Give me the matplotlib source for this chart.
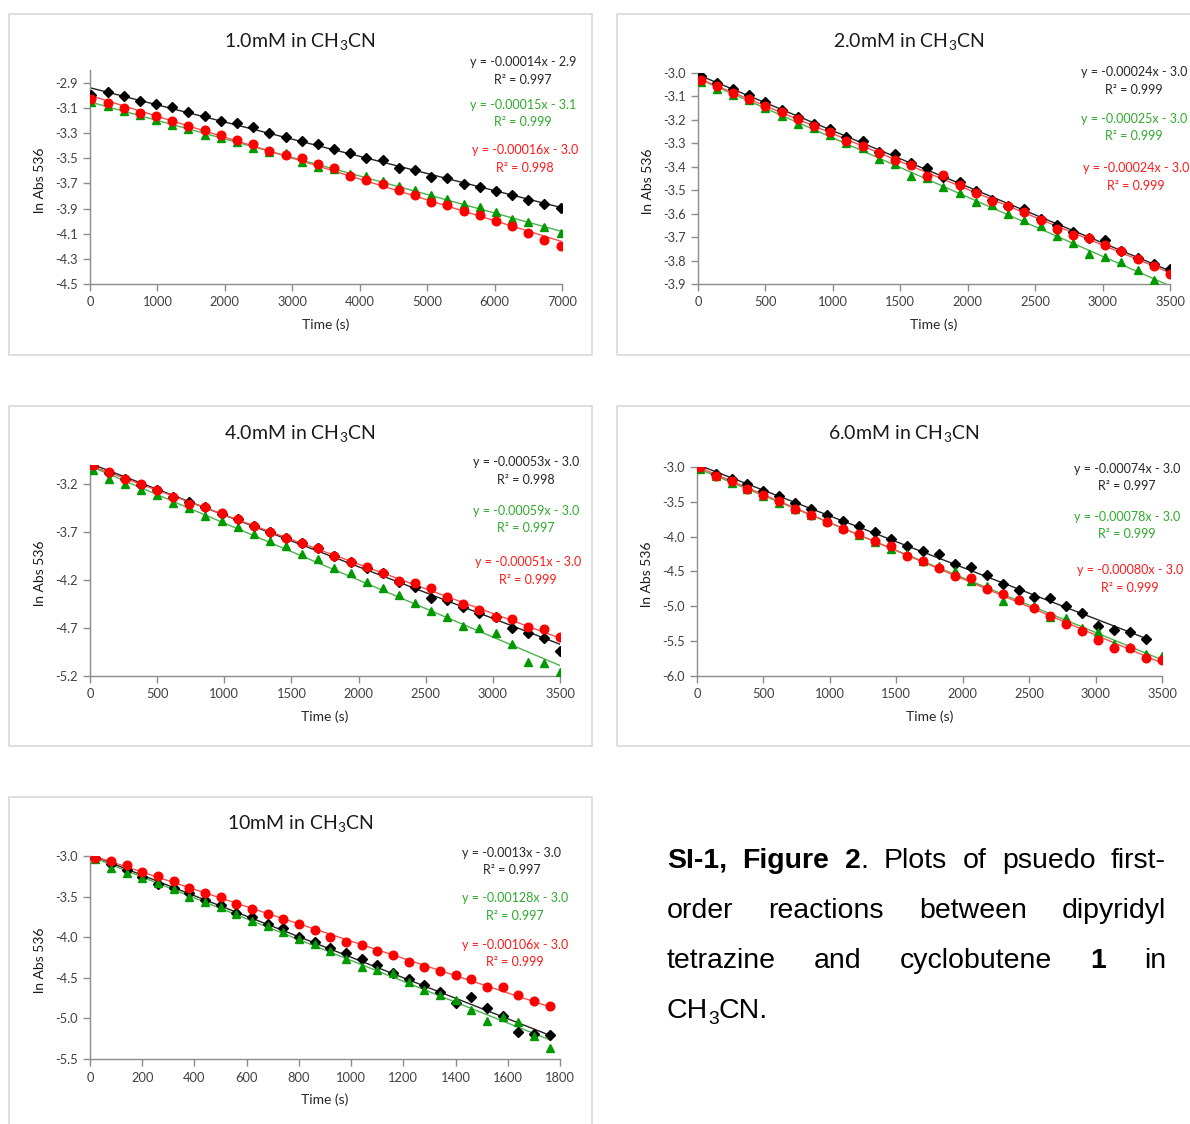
import numpy as np
import matplotlib.pyplot as plt
from matplotlib.patches import Rectangle
from matplotlib import font_manager
from matplotlib.font_manager import FontProperties

plt.rcParams['font.family'] = ['Lato', 'DejaVu Sans']
plt.rcParams['mathtext.fontset'] = 'custom'
plt.rcParams['mathtext.rm'] = 'Lato'
plt.rcParams['mathtext.it'] = 'Lato:italic'

W, H = 1190, 1124

# ---- data (time in s, ln Abs 536) ----
time_1 = [20, 260, 500, 740, 980, 1220, 1460, 1700, 1940, 2180, 2420, 2660, 2900, 3140, 3380,
          3620, 3860, 4100, 4340, 4580, 4820, 5060, 5300, 5540, 5780, 6020, 6260, 6500, 6740, 6980]
black_1 = [-2.997, -2.972, -3.005, -3.045, -3.064, -3.090, -3.128, -3.165, -3.203, -3.222,
           -3.254, -3.302, -3.332, -3.364, -3.388, -3.428, -3.460, -3.495, -3.514, -3.573,
           -3.592, -3.648, -3.659, -3.707, -3.728, -3.761, -3.790, -3.830, -3.862, -3.895]
green_1 = [-3.050, -3.085, -3.125, -3.157, -3.195, -3.232, -3.265, -3.313, -3.340, -3.372,
           -3.415, -3.452, -3.460, -3.527, -3.570, -3.586, -3.624, -3.640, -3.683, -3.723,
           -3.755, -3.795, -3.822, -3.860, -3.889, -3.929, -3.983, -4.010, -4.050, -4.098]
red_1 = [-3.031, -3.058, -3.098, -3.141, -3.165, -3.206, -3.246, -3.278, -3.318, -3.353,
         -3.388, -3.439, -3.474, -3.495, -3.541, -3.573, -3.643, -3.669, -3.707, -3.750,
         -3.795, -3.849, -3.871, -3.916, -3.951, -3.997, -4.039, -4.093, -4.150, -4.200]

time_2 = [20, 140, 260, 380, 500, 620, 740, 860, 980, 1100, 1220, 1340, 1460, 1580, 1700,
          1820, 1940, 2060, 2180, 2300, 2420, 2540, 2660, 2780, 2900, 3020, 3140, 3260, 3380, 3500]
black_2 = [-3.011, -3.043, -3.068, -3.094, -3.125, -3.158, -3.189, -3.217, -3.239, -3.272,
           -3.289, -3.338, -3.346, -3.385, -3.404, -3.445, -3.466, -3.503, -3.543, -3.566,
           -3.580, -3.623, -3.648, -3.677, -3.705, -3.711, -3.758, -3.790, -3.815, -3.836]
green_2 = [-3.040, -3.068, -3.092, -3.115, -3.149, -3.185, -3.218, -3.236, -3.264, -3.300,
           -3.321, -3.367, -3.388, -3.441, -3.446, -3.488, -3.510, -3.549, -3.562, -3.601,
           -3.627, -3.651, -3.697, -3.725, -3.772, -3.786, -3.808, -3.839, -3.883, -3.935]
red_2 = [-3.028, -3.057, -3.087, -3.111, -3.139, -3.168, -3.196, -3.225, -3.250, -3.289,
         -3.310, -3.343, -3.370, -3.391, -3.438, -3.435, -3.476, -3.513, -3.545, -3.566,
         -3.594, -3.626, -3.665, -3.690, -3.705, -3.732, -3.758, -3.793, -3.825, -3.859]

time_3 = time_2
black_3 = [-3.013, -3.082, -3.141, -3.210, -3.263, -3.332, -3.384, -3.443, -3.506, -3.565,
           -3.631, -3.697, -3.756, -3.811, -3.870, -3.950, -4.009, -4.072, -4.131, -4.217,
           -4.269, -4.384, -4.408, -4.478, -4.547, -4.589, -4.697, -4.756, -4.804, -4.936]
green_3 = [-3.054, -3.144, -3.200, -3.256, -3.315, -3.391, -3.453, -3.530, -3.582, -3.651,
           -3.721, -3.790, -3.846, -3.929, -3.985, -4.072, -4.131, -4.224, -4.280, -4.356,
           -4.436, -4.519, -4.589, -4.679, -4.703, -4.749, -4.870, -5.051, -5.061, -5.155]
red_3 = [-3.002, -3.072, -3.141, -3.203, -3.263, -3.332, -3.408, -3.443, -3.499, -3.565,
         -3.634, -3.697, -3.759, -3.811, -3.870, -3.950, -4.009, -4.068, -4.131, -4.210,
         -4.235, -4.280, -4.381, -4.450, -4.513, -4.589, -4.610, -4.686, -4.710, -4.797]

time_4 = time_2
black_4 = [-3.000, -3.106, -3.178, -3.250, -3.346, -3.418, -3.514, -3.600, -3.682, -3.768,
           -3.850, -3.931, -4.032, -4.128, -4.200, -4.243, -4.392, -4.440, -4.555, -4.675,
           -4.771, -4.872, -4.882, -5.002, -5.098, -5.276, -5.338, -5.362, -5.468]
green_4 = [-3.034, -3.130, -3.226, -3.322, -3.418, -3.514, -3.600, -3.682, -3.778, -3.874,
           -3.970, -4.080, -4.176, -4.243, -4.354, -4.426, -4.498, -4.642, -4.714, -4.930,
           -4.896, -5.002, -5.156, -5.170, -5.314, -5.362, -5.540, -5.578, -5.684, -5.712]
red_4 = [-3.000, -3.130, -3.202, -3.312, -3.408, -3.490, -3.610, -3.696, -3.792, -3.888,
         -3.955, -4.066, -4.138, -4.272, -4.354, -4.450, -4.570, -4.594, -4.747, -4.820,
         -4.906, -5.026, -5.132, -5.256, -5.352, -5.482, -5.592, -5.602, -5.736, -5.770]

time_5 = [20, 80, 140, 200, 260, 320, 380, 440, 500, 560, 620, 680, 740, 800, 860,
          920, 980, 1040, 1100, 1160, 1220, 1280, 1340, 1400, 1460, 1520, 1580, 1640, 1700, 1760]
black_5 = [-3.029, -3.098, -3.172, -3.262, -3.344, -3.398, -3.451, -3.541, -3.602, -3.697,
           -3.754, -3.840, -3.889, -3.992, -4.053, -4.135, -4.197, -4.270, -4.340, -4.443,
           -4.516, -4.586, -4.676, -4.811, -4.738, -4.873, -4.967, -5.168, -5.193, -5.205]
green_5 = [-3.041, -3.143, -3.213, -3.275, -3.336, -3.410, -3.500, -3.561, -3.623, -3.713,
           -3.795, -3.861, -3.930, -4.020, -4.082, -4.176, -4.266, -4.361, -4.402, -4.443,
           -4.553, -4.648, -4.709, -4.770, -4.893, -5.029, -4.988, -5.049, -5.213, -5.365]
red_5 = [-3.029, -3.057, -3.111, -3.193, -3.246, -3.303, -3.398, -3.451, -3.500, -3.594,
         -3.652, -3.713, -3.775, -3.836, -3.910, -3.992, -4.053, -4.094, -4.168, -4.217,
         -4.307, -4.361, -4.414, -4.463, -4.516, -4.619, -4.619, -4.717, -4.791, -4.852]

titles = ['1.0mM in CH$_3$CN', '2.0mM in CH$_3$CN', '4.0mM in CH$_3$CN',
          '6.0mM in CH$_3$CN', '10mM in CH$_3$CN']
eqs_1 = ['y = -0.00014x - 2.9', 'y = -0.00015x - 3.1', 'y = -0.00016x - 3.0']
eqs_2 = ['y = -0.00024x - 3.0', 'y = -0.00025x - 3.0', 'y = -0.00024x - 3.0']
eqs_3 = ['y = -0.00053x - 3.0', 'y = -0.00059x - 3.0', 'y = -0.00051x - 3.0']
eqs_4 = ['y = -0.00074x - 3.0', 'y = -0.00078x - 3.0', 'y = -0.00080x - 3.0']
eqs_5 = ['y = -0.0013x - 3.0', 'y = -0.00128x - 3.0', 'y = -0.00106x - 3.0']
r2_1 = ['0.997', '0.999', '0.998']
r2_2 = ['0.999', '0.999', '0.999']
r2_3 = ['0.998', '0.997', '0.999']
r2_4 = ['0.997', '0.999', '0.999']
r2_5 = ['0.997', '0.997', '0.999']

# ---- layout (pixels) ----
panels = [
    dict(box=(9, 14, 592, 355), ax=(90, 562, 70.4, 284), xlim=(0, 7000), xticks=np.arange(0, 7001, 1000),
         ylim=(-4.5, -2.8), yticks=np.arange(-4.5, -2.85, 0.2),
         t=time_1, s=(black_1, green_1, red_1), title=titles[0], tx=300, eq=eqs_1, r2=r2_1,
         eqx=(523, 523, 525), eqy=(62, 105, 150)),
    dict(box=(617, 14, 1200, 355), ax=(698, 1170, 73, 284), xlim=(0, 3500), xticks=np.arange(0, 3501, 500),
         ylim=(-3.9, -3.0), yticks=np.arange(-3.9, -2.95, 0.1),
         t=time_2, s=(black_2, green_2, red_2), title=titles[1], tx=909, eq=eqs_2, r2=r2_2,
         eqx=(1134, 1134, 1136), eqy=(72, 119, 168)),
    dict(box=(9, 406, 592, 746), ax=(90, 560, 465, 676), xlim=(0, 3500), xticks=np.arange(0, 3501, 500),
         ylim=(-5.2, -3.0), yticks=np.arange(-5.2, -3.1, 0.5),
         t=time_3, s=(black_3, green_3, red_3), title=titles[2], tx=300, eq=eqs_3, r2=r2_3,
         eqx=(526, 526, 528), eqy=(462, 511, 562)),
    dict(box=(617, 406, 1200, 746), ax=(697, 1162, 467, 676), xlim=(0, 3500), xticks=np.arange(0, 3501, 500),
         ylim=(-6.0, -3.0), yticks=np.arange(-6.0, -2.95, 0.5),
         t=time_4, s=(black_4, green_4, red_4), title=titles[3], tx=904, eq=eqs_4, r2=r2_4,
         eqx=(1127, 1127, 1130), eqy=(469, 517, 570)),
    dict(box=(9, 797, 592, 1135), ax=(90, 560, 856, 1059), xlim=(0, 1800), xticks=np.arange(0, 1801, 200),
         ylim=(-5.5, -3.0), yticks=np.arange(-5.5, -2.95, 0.5),
         t=time_5, s=(black_5, green_5, red_5), title=titles[4], tx=300, eq=eqs_5, r2=r2_5,
         eqx=(512, 515, 515), eqy=(853, 898, 945)),
]

mk_colors = ['#000000', '#009a00', '#ff0000']
ln_colors = ['#222222', '#4cb24c', '#ff4c4c']
txt_colors = ['#262626', '#2eaa2e', '#ff1a1a']
markers = [('D', 4.8), ('^', 6.3), ('o', 6.2)]

fig = plt.figure(figsize=(W / 100, H / 100), dpi=100)


def fx(px):
    return px / W


def fy(py):
    return 1 - py / H


for p in panels:
    x0, y0, x1, y1 = p['box']
    fig.patches.append(Rectangle((fx(x0), fy(y1)), fx(x1 - x0), (y1 - y0) / H,
                                 transform=fig.transFigure, fill=False,
                                 edgecolor='#d9d9d9', linewidth=1.2))
    l, r, t, b = p['ax']
    ax = fig.add_axes([fx(l), fy(b), fx(r - l), (b - t) / H])
    for i, ys in enumerate(p['s']):
        xs = np.array(p['t'][:len(ys)], dtype=float)
        ys = np.array(ys)
        k, c = np.polyfit(xs, ys, 1)
        xx = np.array([xs.min(), xs.max()])
        ax.plot(xx, k * xx + c, color=ln_colors[i], lw=1.0, zorder=2)
        ax.plot(xs, ys, linestyle='none', marker=markers[i][0], ms=markers[i][1],
                color=mk_colors[i], mec=mk_colors[i], zorder=3)
    ax.set_xlim(*p['xlim'])
    ax.set_ylim(*p['ylim'])
    ax.set_xticks(p['xticks'])
    ax.set_yticks(p['yticks'])
    ax.set_yticklabels(['%.1f' % v for v in p['yticks']])
    ax.set_xticklabels(['%d' % v for v in p['xticks']])
    for s in ['top', 'right']:
        ax.spines[s].set_visible(False)
    for s in ['left', 'bottom']:
        ax.spines[s].set_color('#8c8c8c')
        ax.spines[s].set_linewidth(1.0)
    ax.tick_params(direction='out', length=5, width=1.0, color='#8c8c8c',
                   labelcolor='#404040', labelsize=9.3, pad=4)
    ax.patch.set_alpha(0)

    fig.text(fx(p['tx']), fy(y0 + 27), p['title'],
             ha='center', va='center', fontsize=14, color='#1a1a1a')
    fig.text(fx((l + r) / 2), fy(b + 41), 'Time (s)', ha='center', va='center',
             fontsize=10, color='#262626')
    fig.text(fx(l - 50), fy((t + b) / 2 + 3), 'ln Abs 536', ha='center', va='center',
             rotation=90, fontsize=10, color='#1a1a1a')
    for i in range(3):
        fig.text(fx(p['eqx'][i]), fy(p['eqy'][i]), p['eq'][i], ha='center', va='center',
                 fontsize=9, color=txt_colors[i])
        fig.text(fx(p['eqx'][i]), fy(p['eqy'][i] + 17.5), 'R² = ' + p['r2'][i], ha='center',
                 va='center', fontsize=9, color=txt_colors[i])

# ---- caption (justified, Arial-like font) ----
cap_size = 20.5


def cap_prop(weight, size):
    path = font_manager.findfont(FontProperties(family='Liberation Sans', weight=weight))
    return FontProperties(fname=path, size=size)


cap_lines = [
    [[('SI-1,', 'bold')], [('Figure', 'bold')], [('2', 'bold'), ('.', 'normal')],
     [('Plots', 'normal')], [('of', 'normal')], [('psuedo', 'normal')], [('first-', 'normal')]],
    [[('order', 'normal')], [('reactions', 'normal')], [('between', 'normal')], [('dipyridyl', 'normal')]],
    [[('tetrazine', 'normal')], [('and', 'normal')], [('cyclobutene', 'normal')], [('1', 'bold')], [('in', 'normal')]],
]
cap_x0, cap_x1 = 667, 1166
cap_base = [868, 918, 968, 1018]

fig.canvas.draw()
renderer = fig.canvas.get_renderer()


def seg_width(txt, weight, size):
    t = fig.text(0, 0, txt, fontproperties=cap_prop(weight, size))
    w = t.get_window_extent(renderer).width
    t.remove()
    return w


for li, words in enumerate(cap_lines):
    widths = [[seg_width(s, wt, cap_size) for s, wt in word] for word in words]
    total = sum(sum(w) for w in widths)
    gap = (cap_x1 - cap_x0 - total) / (len(words) - 1)
    x = cap_x0
    for word, ws in zip(words, widths):
        for (s, wt), w in zip(word, ws):
            fig.text(fx(x), fy(cap_base[li]), s, fontproperties=cap_prop(wt, cap_size),
                     va='baseline', ha='left', color='#000000')
            x += w
        x += gap

# last line: CH3CN.
x = cap_x0
for s, size, dy in [('CH', cap_size, 0), ('3', cap_size * 0.68, 6), ('CN.', cap_size, 0)]:
    fig.text(fx(x), fy(cap_base[3] + dy), s, fontproperties=cap_prop('normal', size),
             va='baseline', ha='left', color='#000000')
    x += seg_width(s, 'normal', size)

fig.savefig('out.png', dpi=100)
